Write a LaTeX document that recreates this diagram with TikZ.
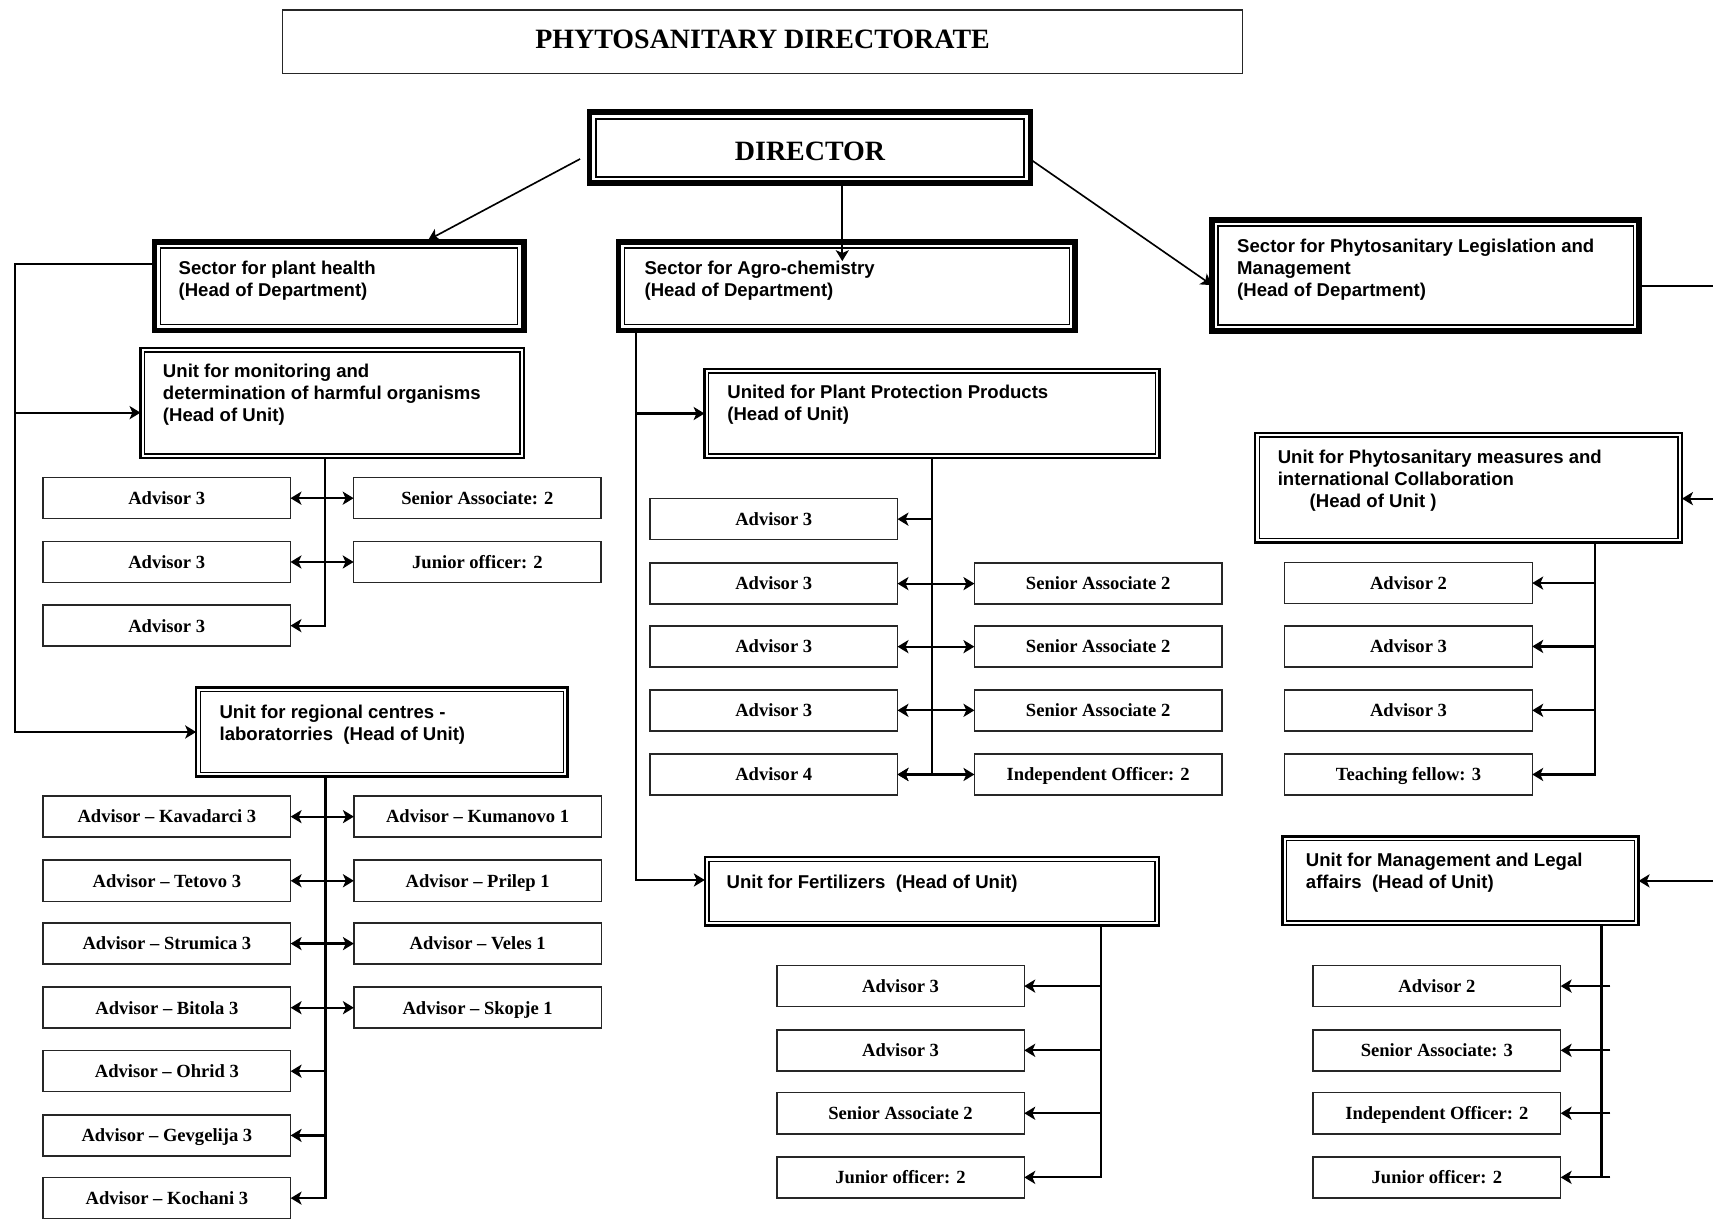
\documentclass[tikz,border=0pt]{standalone}
\usepackage{fontspec}
\setmainfont{Liberation Serif}
\newfontfamily\boxsans{Liberation Sans}
\usetikzlibrary{arrows.meta}
\tikzset{
  base/.style={inner sep=0pt, outer sep=0pt},
  frame3/.style n args={3}{draw, line width=#1,
    path picture={\draw[line width=#3]
      ([shift={(#2,-#2)}]path picture bounding box.north west) rectangle
      ([shift={(-#2,#2)}]path picture bounding box.south east);}},
  titlebox/.style={base, draw=black!85, line width=0.7pt, minimum width=439.3pt, minimum height=29pt,
    font=\bfseries\fontsize{12.8pt}{15pt}\selectfont, text depth=2.6pt},
  dirbox/.style={base, frame3={2.6pt}{3pt}{1pt}, font=\bfseries\fontsize{12.8pt}{15pt}\selectfont, text height=11.3pt, text depth=0pt},
  sectorbox/.style={base, frame3={2.5pt}{2.75pt}{0.6pt}},
  unitbox/.style={base, frame3={1.1pt}{1.9pt}{0.6pt}},
  boxtext/.style={base, anchor=north west, align=left, font=\boxsans\bfseries\fontsize{8.5pt}{10.1pt}\selectfont},
  staff/.style={base, draw=black!85, line width=0.7pt, minimum width=113.3pt, minimum height=18.8pt,
    text height=5.8pt, text depth=0pt, font=\bfseries\fontsize{8.5pt}{10pt}\selectfont},
  >={Stealth[length=5pt,width=6pt,inset=1.3pt]},
  conn/.style={line width=1pt},
  arr/.style={conn, ->},
  dbl/.style={conn, <->},
  thinarr/.style={line width=0.75pt, ->}
}
\begin{document}
\begin{tikzpicture}[x=0.5pt,y=-0.5pt]
\useasboundingbox (0,0) rectangle (1568,1115);
\clip (0,0) rectangle (1568,1115);

% ---------- top ----------
\node[titlebox] (title) at (698,38.1) {PHYTOSANITARY DIRECTORATE};
\node[dirbox, minimum width=201.9pt, minimum height=32.5pt] (dir) at (741.5,135.2) {DIRECTOR};

% ---------- sectors ----------
\node[sectorbox, minimum width=169pt, minimum height=40.4pt] (ph) at (310.5,262) {};
\node[boxtext] (phT) at (163.5,238.5) {Sector for plant health\\(Head of Department)};
\node[sectorbox, minimum width=209pt, minimum height=40.4pt] (agro) at (775.2,262) {};
\node[boxtext] (agroT) at (590,238.5) {Sector for Agro-chemistry\\(Head of Department)};
\node[sectorbox, minimum width=195.5pt, minimum height=50.9pt] (leg) at (1304.9,252.2) {};
\node[boxtext] (legT) at (1132.5,219) {Sector for Phytosanitary Legislation and\\Management\\(Head of Department)};

% ---------- units ----------
\node[unitbox, minimum width=175.6pt, minimum height=50.45pt] (mon) at (304.2,368.9) {};
\node[boxtext] (monT) at (149.2,333) {Unit for monitoring and\\determination of harmful organisms\\(Head of Unit)};
\node[unitbox, minimum width=170pt, minimum height=40.8pt] (reg) at (349.5,670) {};
\node[boxtext] (regT) at (201,645) {Unit for regional centres -\\laboratorries\ \ (Head of Unit)};
\node[unitbox, minimum width=208.2pt, minimum height=40.85pt] (ppp) at (853.1,378.5) {};
\node[boxtext] (pppT) at (665.8,352) {United for Plant Protection Products\\(Head of Unit)};
\node[unitbox, minimum width=207.9pt, minimum height=31.25pt] (fert) at (853,815.9) {};
\node[boxtext] (fertT) at (665.1,800.5) {Unit for Fertilizers\ \ (Head of Unit)};
\node[unitbox, minimum width=195.3pt, minimum height=50.25pt] (phy) at (1344.3,446.4) {};
\node[boxtext] (phyT) at (1169.6,411.5) {Unit for Phytosanitary measures and\\international Collaboration\\\hspace*{14.6pt}(Head of Unit )};
\node[unitbox, minimum width=162.9pt, minimum height=40.55pt] (mg) at (1337,806.3) {};
\node[boxtext] (mgT) at (1195.4,780.7) {Unit for Management and Legal\\affairs\ \ (Head of Unit)};

% ---------- staff: monitoring ----------
\node[staff] (ma1) at (152.6,456) {Advisor 3};
\node[staff] (ma2) at (152.6,514.4) {Advisor 3};
\node[staff] (ma3) at (152.6,572.7) {Advisor 3};
\node[staff] (ms1) at (437,456) {Senior Associate: 2};
\node[staff] (ms2) at (437,514.4) {Junior officer: 2};

% ---------- staff: regional ----------
\node[staff] (ra1) at (152.75,747.5) {Advisor – Kavadarci 3};
\node[staff] (ra2) at (152.75,806.2) {Advisor – Tetovo 3};
\node[staff] (ra3) at (152.75,863.7) {Advisor – Strumica 3};
\node[staff] (ra4) at (152.75,922.4) {Advisor – Bitola 3};
\node[staff] (ra5) at (152.75,980.5) {Advisor – Ohrid 3};
\node[staff] (ra6) at (152.75,1039.3) {Advisor – Gevgelija 3};
\node[staff] (ra7) at (152.75,1096.7) {Advisor – Kochani 3};
\node[staff] (rb1) at (437.2,747.5) {Advisor – Kumanovo 1};
\node[staff] (rb2) at (437.2,806.2) {Advisor – Prilep 1};
\node[staff] (rb3) at (437.2,863.7) {Advisor – Veles 1};
\node[staff] (rb4) at (437.2,922.4) {Advisor – Skopje 1};

% ---------- staff: plant protection products ----------
\node[staff] (pa1) at (708.25,475.2) {Advisor 3};
\node[staff] (pa2) at (708.25,534.2) {Advisor 3};
\node[staff] (pa3) at (708.25,591.9) {Advisor 3};
\node[staff] (pa4) at (708.25,650.2) {Advisor 3};
\node[staff] (pa5) at (708.25,708.9) {Advisor 4};
\node[staff] (ps2) at (1005.2,534.2) {Senior Associate 2};
\node[staff] (ps3) at (1005.2,591.9) {Senior Associate 2};
\node[staff] (ps4) at (1005.2,650.2) {Senior Associate 2};
\node[staff] (ps5) at (1005.2,708.9) {Independent Officer: 2};

% ---------- staff: fertilizers ----------
\node[staff] (fa1) at (824.3,902.6) {Advisor 3};
\node[staff] (fa2) at (824.3,961.4) {Advisor 3};
\node[staff] (fa3) at (824.3,1019) {Senior Associate 2};
\node[staff] (fa4) at (824.3,1077.7) {Junior officer: 2};

% ---------- staff: phytosanitary measures ----------
\node[staff] (ya1) at (1289.25,533.7) {Advisor 2};
\node[staff] (ya2) at (1289.25,591.7) {Advisor 3};
\node[staff] (ya3) at (1289.25,650.2) {Advisor 3};
\node[staff] (ya4) at (1289.25,708.9) {Teaching fellow: 3};

% ---------- staff: management ----------
\node[staff] (ga1) at (1315.25,902.6) {Advisor 2};
\node[staff] (ga2) at (1315.25,961.4) {Senior Associate: 3};
\node[staff] (ga3) at (1315.25,1019) {Independent Officer: 2};
\node[staff] (ga4) at (1315.25,1077.7) {Junior officer: 2};

% ---------- director connectors ----------
\coordinate (dl) at ([shift={(-4.3pt,-5.15pt)}]dir.west);
\coordinate (phin) at ([shift={(40.75pt,1pt)}]ph.north);
\draw[thinarr] (dl) -- (phin);
\coordinate (dm) at (771,239);
\draw[thinarr] (dir.south -| dm) -- (dm);
\draw[thinarr] ([yshift=-5.4pt]dir.east) -- ([yshift=-4.4pt]leg.west);

% ---------- plant health bus ----------
\coordinate (lbus) at (14,0);
\coordinate (monin) at ([yshift=-4.4pt]mon.west);
\draw[arr] ([yshift=10.2pt]ph.west) -| (lbus |- reg.west) -- (reg.west);
\draw[arr] (monin -| lbus) -- (monin);

% ---------- agro-chemistry bus ----------
\coordinate (abus) at (581.8,0);
\coordinate (fertin) at ([yshift=5.2pt]fert.west);
\draw[arr] (agro.south -| abus) |- (fertin);
\draw[arr] (ppp.west -| abus) -- (ppp.west);

% ---------- legislation bus (continues past the right edge) ----------
\coordinate (rbus) at (1568,0);
\coordinate (legout) at ([yshift=-4.65pt]leg.east);
\coordinate (phyin) at ([yshift=-5pt]phy.east);
\draw[conn] (legout) -- (legout -| rbus);
\draw[arr] (phyin -| rbus) -- (phyin);
\draw[arr] (mg.east -| rbus) -- (mg.east);

% ---------- monitoring ----------
\coordinate (mbar) at (297.5,0);
\draw[arr] (mon.south -| mbar) |- (ma3.east);
\draw[dbl] (ma1.east) -- (ms1.west);
\draw[dbl] (ma2.east) -- (ms2.west);

% ---------- regional ----------
\coordinate (rgbar) at (297.9,0);
\draw[arr] (reg.south -| rgbar) |- (ra7.east);
\foreach \i in {1,2,3,4} \draw[dbl] (ra\i.east) -- (rb\i.west);
\foreach \i in {5,6} \draw[arr] (ra\i.east -| rgbar) -- (ra\i.east);

% ---------- plant protection products ----------
\draw[arr] (ppp.south) |- (pa5.east);
\draw[arr] (pa1.east -| ppp.south) -- (pa1.east);
\foreach \i in {2,3,4,5} \draw[dbl] (pa\i.east) -- (ps\i.west);

% ---------- fertilizers ----------
\coordinate (fbar) at (1007.8,0);
\draw[arr] (fert.south -| fbar) |- (fa4.east);
\foreach \i in {1,2,3} \draw[arr] (fa\i.east -| fbar) -- (fa\i.east);

% ---------- phytosanitary measures ----------
\coordinate (ybar) at (1460.2,0);
\draw[arr] (phy.south -| ybar) |- (ya4.east);
\foreach \i in {1,2,3} \draw[arr] (ya\i.east -| ybar) -- (ya\i.east);

% ---------- management ----------
\coordinate (gbar) at (1466,0);
\coordinate (gstub) at (1474,0);
\draw[conn] (mg.south -| gbar) -- (ga4.east -| gbar);
\foreach \i in {1,2,3,4} \draw[arr] (ga\i.east -| gstub) -- (ga\i.east);
\end{tikzpicture}
\end{document}
